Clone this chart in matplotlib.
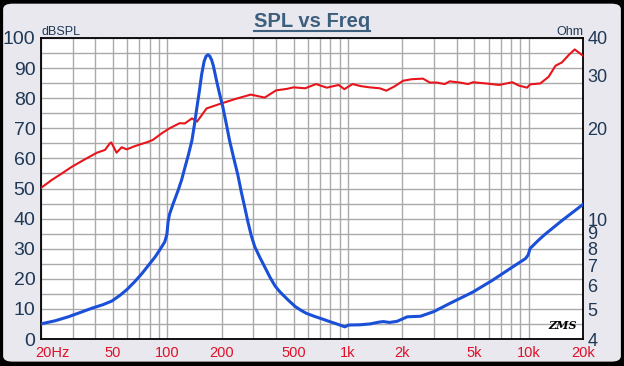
import matplotlib
matplotlib.use('Agg')
import matplotlib.pyplot as plt
import matplotlib.transforms as mtransforms
from matplotlib.patches import FancyBboxPatch
from matplotlib.lines import Line2D
from matplotlib.ticker import FixedLocator, NullFormatter, LogLocator

plt.rcParams['font.family'] = ['Liberation Sans', 'DejaVu Sans']

# SPL curve (left axis, dB)
spl_freq = [20, 22.9, 26.1, 29.6, 35, 40.8, 45.2, 48.1, 49, 52.4, 55.9, 59.6, 66.3, 78.3, 83, 93,
            103, 117, 125, 137, 146, 165, 200, 240, 290, 346, 400, 460, 500, 580, 666, 763, 889,
            955, 1060, 1180, 1320, 1500, 1630, 1820, 2020, 2250, 2600, 2840, 3090, 3430, 3660,
            4160, 4620, 4920, 5820, 6870, 8120, 8830, 9800, 10200, 11600, 12900, 14100, 15300,
            16700, 18000, 20000]
spl_db = [50.2, 52.8, 55, 57.2, 59.7, 61.9, 62.8, 65, 65.3, 61.9, 63.7, 63.0, 64.1, 65.5, 66.1, 68.3,
          70, 71.7, 71.6, 73.3, 72.2, 76.6, 78.3, 79.8, 81.2, 80.2, 82.6, 83.1, 83.6, 83.3, 84.7, 83.5, 84.4,
          83, 84.7, 84, 83.6, 83.3, 82.5, 84, 85.8, 86.3, 86.5, 85.2, 85.2, 84.7, 85.6,
          85.2, 84.7, 85.3, 84.9, 84.4, 85.3, 84.2, 83.5, 84.6, 84.9, 87.1, 90.8, 91.9,
          94.4, 96.2, 94.1]

# impedance curve (right axis, Ohm)
imp_freq = [20, 24, 28.3, 33, 38.2, 44, 49.4, 55, 59.8, 66, 72.4, 79, 85.7, 92, 96.8, 99.5, 101,
            103, 108, 115, 120, 125, 131, 137, 142, 146, 151, 155, 160, 164, 168, 172, 176, 180,
            187, 195, 203, 212, 221, 233, 246, 257, 268, 280, 292, 305, 326, 348, 371, 395, 421,
            465, 510, 550, 588, 650, 730, 800, 866, 962, 1005, 1170, 1330, 1480, 1570, 1700, 1870,
            2130, 2520, 2980, 3660, 4920, 6340, 7800, 9610, 9930, 10200, 11300, 12300, 15300, 20000]
imp_ohm = [4.49, 4.6, 4.74, 4.9, 5.06, 5.2, 5.35, 5.6, 5.84, 6.2, 6.6, 7.05, 7.5, 8.0, 8.41, 8.9, 9.8,
           10.4, 11.3, 12.5, 13.5, 14.8, 16.4, 18.3, 21.0, 23.6, 27.0, 30.3, 33.5, 34.8, 35.2, 34.8, 33.8, 32.3,
           29.0, 26.0, 23.6, 20.8, 18.3, 16.0, 14.0, 12.3, 11.0, 9.75, 8.8, 8.1, 7.45, 6.9, 6.4, 6.0, 5.73,
           5.4, 5.13, 4.98, 4.87, 4.76, 4.65, 4.56, 4.49, 4.39, 4.45, 4.46, 4.49, 4.55, 4.57, 4.54, 4.58,
           4.74, 4.76, 4.93, 5.25, 5.73, 6.28, 6.82, 7.4, 7.6, 8.0, 8.5, 8.9, 9.9, 11.2]

x_ticks = [20, 50, 100, 200, 500, 1000, 2000, 5000, 10000, 20000]
x_labels = ['20Hz', '50', '100', '200', '500', '1k', '2k', '5k', '10k', '20k']
db_ticks = [0, 10, 20, 30, 40, 50, 60, 70, 80, 90, 100]
ohm_ticks = [4, 5, 6, 7, 8, 9, 10, 20, 30, 40]

navy = '#1f3856'
red_txt = '#e0102a'

fig = plt.figure(figsize=(6.24, 3.66), dpi=100)
fig.patch.set_facecolor('black')
bg = FancyBboxPatch((0.005, 0.012), 0.99, 0.978, boxstyle='round,pad=0,rounding_size=0.015',
                    transform=fig.transFigure, facecolor='#e8e8ee', edgecolor='none', zorder=-10)
fig.patches.append(bg)

ax = fig.add_axes([41 / 624, 1 - 339 / 366, 542 / 624, 301 / 366])
ax.set_facecolor('white')
ax.set_xscale('log')
ax.set_xlim(20, 20000)
ax.set_ylim(0, 100)

ax.xaxis.set_major_locator(FixedLocator(x_ticks))
ax.set_xticklabels(x_labels)
ax.xaxis.set_minor_locator(LogLocator(base=10, subs=range(1, 10)))
ax.xaxis.set_minor_formatter(NullFormatter())
ax.set_yticks(db_ticks)
ax.set_yticks(range(5, 100, 10), minor=True)

ax.grid(True, which='both', axis='both', color='#aaaaaa', lw=1.0)
ax.tick_params(axis='x', which='both', length=0, pad=5, labelsize=10.5, labelcolor=red_txt)
ax.tick_params(axis='y', which='both', length=0, pad=4, labelsize=14, labelcolor=navy)
first = ax.get_xticklabels()[0]
first.set_ha('left')
first.set_transform(first.get_transform() +
                    mtransforms.ScaledTranslation(-6 / 100, 0, fig.dpi_scale_trans))
for s in ax.spines.values():
    s.set_color('black')
    s.set_linewidth(1.3)

ax.plot(spl_freq, spl_db, color='#e8141c', lw=1.5, zorder=3)

ax2 = ax.twinx()
ax2.set_yscale('log')
ax2.set_ylim(4, 40)
ax2.yaxis.set_major_locator(FixedLocator(ohm_ticks))
ax2.yaxis.set_minor_locator(FixedLocator([]))
ax2.set_yticklabels([str(t) for t in ohm_ticks])
ax2.yaxis.set_minor_formatter(NullFormatter())
ax2.tick_params(axis='y', which='both', length=0, pad=3, labelsize=13, labelcolor=navy)
for s in ax2.spines.values():
    s.set_visible(False)
ax2.plot(imp_freq, imp_ohm, color='#1a4fd8', lw=2.2, zorder=3)

fig.text(41 / 624, 1 - 35 / 366, 'dBSPL', fontsize=9, color=navy, ha='left', va='baseline')
fig.text(583 / 624, 1 - 35 / 366, 'Ohm', fontsize=9, color=navy, ha='right', va='baseline')
ax.text(0.963, 0.045, 'ZMS', transform=ax.transAxes, fontsize=8, fontstyle='italic',
        fontweight='bold', family='DejaVu Serif', color='black', ha='center', va='center')

title = fig.text(312 / 624, 1 - 27 / 366, 'SPL vs Freq', fontsize=14.5, fontweight='bold',
                 color='#3d5f7d', ha='center', va='baseline')
fig.canvas.draw()
bb = title.get_window_extent().transformed(fig.transFigure.inverted())
uy = 1 - 31 / 366
fig.lines.append(Line2D([bb.x0, bb.x1], [uy, uy], transform=fig.transFigure,
                        color='#3d5f7d', lw=1.5))

fig.savefig('out.png', dpi=100, facecolor=fig.get_facecolor())
